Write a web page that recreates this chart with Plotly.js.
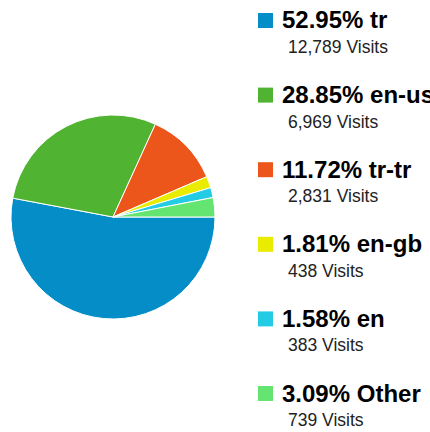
<!DOCTYPE html>
<html>
<head>
<meta charset="utf-8">
<script src="https://cdn.plot.ly/plotly-3.0.1.min.js"></script>
<style>html,body{margin:0;padding:0;background:#fff;}#chart{width:430px;height:432px;}</style>
</head>
<body>
<div id="chart"></div>
<script>
const languages = ["tr", "en-us", "tr-tr", "en-gb", "en", "Other"];
const visits = [12789, 6969, 2831, 438, 383, 739];
const percentLabels = ["52.95%", "28.85%", "11.72%", "1.81%", "1.58%", "3.09%"];
const visitLabels = ["12,789", "6,969", "2,831", "438", "383", "739"];
const colors = ["#058DC7", "#50B432", "#ED561B", "#EAEC00", "#24CBE5", "#64E572"];

const W = 430, H = 432;
const cx = 113, cy = 217, r = 102;

const trace = {
  type: "pie",
  values: visits,
  labels: languages,
  sort: false,
  direction: "clockwise",
  rotation: 90,
  textinfo: "none",
  hoverinfo: "none",
  marker: { colors: colors, line: { color: "#ffffff", width: 1 } },
  domain: { x: [(cx - r) / W, (cx + r) / W], y: [(H - cy - r) / H, (H - cy + r) / H] },
  showlegend: false
};

const shapes = [];
const annotations = [];
const top0 = 20.5, step = 74.6;
languages.forEach((lang, i) => {
  const yc = top0 + i * step;
  shapes.push({
    type: "rect", xref: "paper", yref: "paper",
    x0: 258 / W, x1: 273 / W, y0: 1 - (yc - 7.5) / H, y1: 1 - (yc + 7.5) / H,
    fillcolor: colors[i], line: { width: 0 }
  });
  annotations.push({
    xref: "paper", yref: "paper", x: 280 / W, y: 1 - (yc - 0.5) / H,
    xanchor: "left", yanchor: "middle", showarrow: false,
    text: "<b>" + percentLabels[i] + " " + lang + "</b>",
    font: { family: "Liberation Sans, Arial, sans-serif", size: 24, color: "#000000" }
  });
  annotations.push({
    xref: "paper", yref: "paper", x: 286 / W, y: 1 - (yc + 26.5) / H,
    xanchor: "left", yanchor: "middle", showarrow: false,
    text: visitLabels[i] + " Visits",
    font: { family: "Liberation Sans, Arial, sans-serif", size: 17.5, color: "#222222" }
  });
});

const layout = {
  width: W, height: H,
  margin: { l: 0, r: 0, t: 0, b: 0 },
  paper_bgcolor: "#ffffff",
  showlegend: false,
  shapes: shapes,
  annotations: annotations
};

Plotly.newPlot("chart", [trace], layout, { staticPlot: true, displayModeBar: false });
</script>
</body>
</html>
